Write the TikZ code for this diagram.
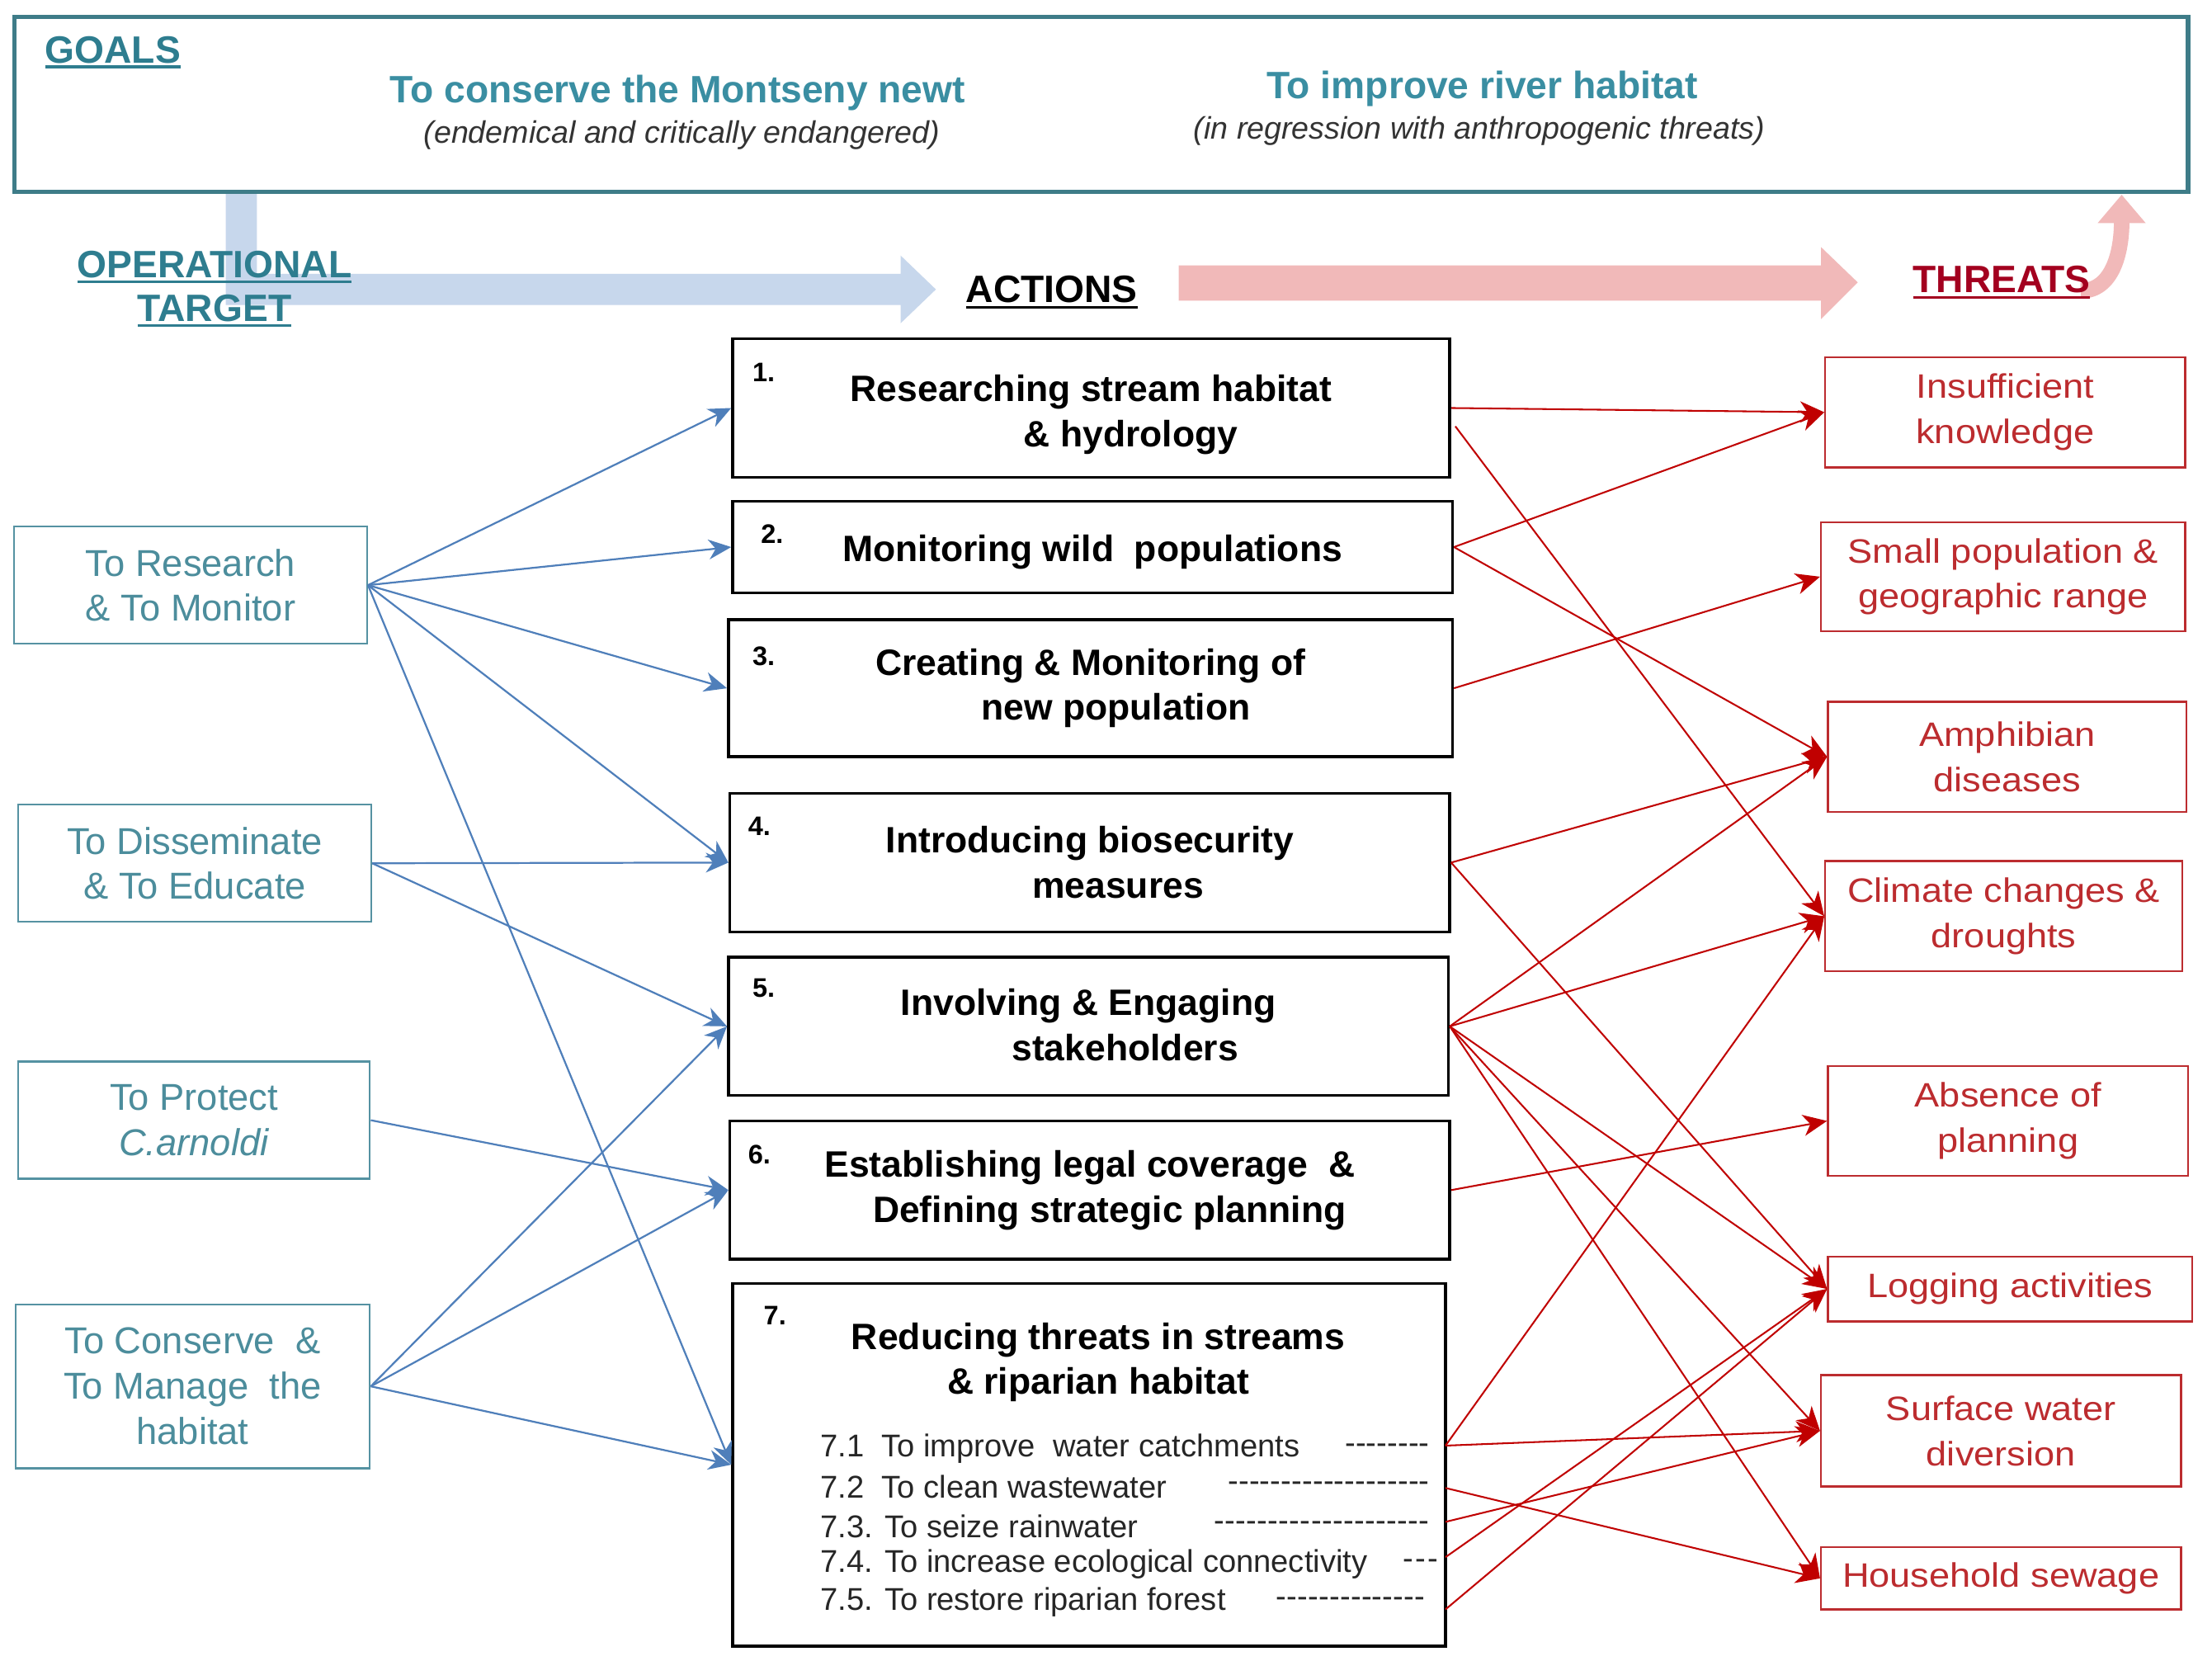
\documentclass[tikz,border=0pt]{standalone}
\usepackage{fontspec}
\setmainfont{Liberation Sans}
\newfontfamily\widefont[FakeStretch=1.1]{Liberation Sans}
\usetikzlibrary{arrows.meta}
\definecolor{goalteal}{HTML}{2E7D8F}
\definecolor{goaltext}{HTML}{3A8EA2}
\definecolor{goalline}{HTML}{3E7C88}
\definecolor{lteal}{HTML}{4C8D9C}
\definecolor{lborder}{HTML}{5592A2}
\definecolor{blu}{HTML}{4F7FBA}
\definecolor{rd}{HTML}{C00000}
\definecolor{tred}{HTML}{BC2C2F}
\definecolor{thrlab}{HTML}{A3001F}
\definecolor{bigblue}{HTML}{C7D7EC}
\definecolor{bigred}{HTML}{F1B9B9}
\newcommand\ulx[2][1.8pt]{\setbox0\hbox{#2}\leavevmode\rlap{\rule[-4pt]{\wd0}{#1}}\box0}
\newcommand\dfill[1]{\hbox to #1{\xleaders\hbox{-}\hfill}}
\begin{document}
\begin{tikzpicture}[x={(1pt,0pt)},y={(0pt,-1pt)},
  lbox/.style={draw=lborder, line width=1.4pt, text=lteal, align=center, inner sep=0pt, font=\fontsize{26.5}{32}\selectfont},
  abox/.style={draw=black, line width=2pt, align=center, inner sep=0pt, font=\bfseries\fontsize{26}{32}\selectfont},
  tbox/.style={draw=tred, line width=1.4pt, text=tred, align=center, inner sep=0pt, font=\widefont\fontsize{24}{32}\selectfont},
  num/.style={font=\bfseries\fontsize{19}{22}\selectfont, inner sep=0pt},
  item/.style={font=\fontsize{22.3}{24}\selectfont, text=black!85, inner sep=0pt},
  bl/.style={draw=blu, line width=1.3pt, -{Stealth[length=16pt,width=14pt,inset=5pt]}},
  rl/.style={draw=rd, line width=1.2pt, -{Stealth[length=17pt,width=15pt,inset=5pt]}},
  head/.style={font=\bfseries\fontsize{27}{30}\selectfont, inner sep=0pt},
  goalsub/.style={font=\itshape\fontsize{22}{24}\selectfont, text=black!80, inner sep=0pt},
  goalmain/.style={font=\bfseries\fontsize{27}{30}\selectfont, text=goaltext, inner sep=0pt},
]
\fill[white] (0,0) rectangle (1567,1176);
\useasboundingbox (0,0) rectangle (1567,1176);

% big background arrows
\fill[bigblue] (160,137) -- (182,137) -- (182,194) -- (638,194) -- (638,181) -- (663,205) -- (638,229) -- (638,216) -- (160,216) -- cycle;
\fill[bigred] (835,188) -- (1290,188) -- (1290,175) -- (1316,200) -- (1290,226) -- (1290,213) -- (835,213) -- cycle;
\draw[bigred, line width=11pt] (1474,206) to[out=0,in=-90] (1503,157);
\fill[bigred] (1486,158) -- (1520,158) -- (1503,138) -- cycle;

% goals
\node[draw=goalline, line width=3pt, minimum width=1540pt, minimum height=124pt, inner sep=0pt] (goals) at (780,74) {};
\node[head, text=goalteal] (goalslab) at (80,37) {\ulx[2.2pt]{GOALS}};
\node[goalmain] (g1) at (480,66) {To conserve the Montseny newt};
\node[goalsub] (g1s) at (483,96) {(endemical and critically endangered)};
\node[goalmain] (g2) at (1050,63) {To improve river habitat};
\node[goalsub] (g2s) at (1048,93) {(in regression with anthropogenic threats)};

\node[head, text=goalteal] (op1) at (152,189) {\ulx{OPERATIONAL}};
\node[head, text=goalteal] (op2) at (152,220) {\ulx{TARGET}};
\node[head] (actlab) at (745,207) {\ulx{ACTIONS}};
\node[head, text=thrlab] (thrl) at (1418,200) {\ulx{THREATS}};

% operational targets
\node[lbox, minimum width=250pt, minimum height=83pt] (l1) at (135,414.5) {To Research\\\& To Monitor};
\node[lbox, minimum width=250pt, minimum height=83pt] (l2) at (138,611.5) {To Disseminate\\\& To Educate};
\node[lbox, minimum width=249pt, minimum height=83pt] (l3) at (137.5,793.5) {To Protect\\\textit{C.arnoldi}};
\node[lbox, minimum width=251pt, minimum height=116pt] (l4) at (136.5,982) {To Conserve\ \ \&\\To Manage\ \ the\\habitat};

% actions
\node[abox, minimum width=508pt, minimum height=98pt, text depth=0pt] (a1) at (773,289) {\raisebox{-4pt}{Researching stream habitat}\\\hspace*{56pt}\raisebox{-4pt}{\& hydrology}};
\node[abox, minimum width=510pt, minimum height=65pt, text depth=0pt] (a2) at (774,387.5) {\raisebox{-2pt}{Monitoring wild\ \ populations}};
\node[abox, minimum width=513pt, minimum height=97pt] (a3) at (772.5,487.5) {Creating \& Monitoring of\\\hspace*{36pt}new population};
\node[abox, minimum width=510pt, minimum height=98pt] (a4) at (772,611) {Introducing biosecurity\\\hspace*{40pt}measures};
\node[abox, minimum width=510pt, minimum height=98pt] (a5) at (771,727) {\raisebox{2pt}{Involving \& Engaging}\\\hspace*{52pt}\raisebox{2pt}{stakeholders}};
\node[abox, minimum width=510pt, minimum height=98pt] (a6) at (772,843) {Establishing legal coverage\ \ \&\\\hspace*{28pt}Defining strategic planning};
\node[abox, minimum width=505pt, minimum height=257pt] (a7) at (771.5,1037.5) {};
\node[font=\bfseries\fontsize{26}{32}\selectfont, align=center, inner sep=0pt] (a7t) at (778,965) {Reducing threats in streams\\\& riparian habitat};

\node[num] (n1) at (541,264) {1.};
\node[num] (n2) at (547,378) {2.};
\node[num] (n3) at (541,465) {3.};
\node[num] (n4) at (538,585) {4.};
\node[num] (n5) at (541,700) {5.};
\node[num] (n6) at (538,818) {6.};
\node[num] (n7) at (549,932) {7.};

\node[item, anchor=west] (i1) at (581,1026) {7.1\ \ To improve\ \ water catchments};
\node[item, anchor=west] (i2) at (581,1053) {7.2\ \ To clean wastewater};
\node[item, anchor=west] (i3) at (581,1081) {7.3. To seize rainwater};
\node[item, anchor=west] (i4) at (581,1108) {7.4. To increase ecological connectivity};
\node[item, anchor=west] (i5) at (581,1135) {7.5. To restore riparian forest};
\node[item, anchor=east] (d1) at (1013,1026) {\dfill{60pt}};
\node[item, anchor=east] (d2) at (1013,1053) {\dfill{143pt}};
\node[item, anchor=east] (d3) at (1013,1081) {\dfill{153pt}};
\node[item, anchor=east] (d4) at (1020,1108) {\dfill{27pt}};
\node[item, anchor=east] (d5) at (1010,1135) {\dfill{106pt}};

% threats
\node[tbox, minimum width=255pt, minimum height=78pt] (t1) at (1420.5,292) {Insufficient\\knowledge};
\node[tbox, minimum width=258pt, minimum height=77pt] (t2) at (1419,408.5) {Small population \&\\geographic range};
\node[tbox, minimum width=254pt, minimum height=78pt] (t3) at (1422,536) {Amphibian\\diseases};
\node[tbox, minimum width=253pt, minimum height=78pt] (t4) at (1419.5,649) {Climate changes \&\\droughts};
\node[tbox, minimum width=255pt, minimum height=78pt] (t5) at (1422.5,794) {Absence of\\planning};
\node[tbox, minimum width=258pt, minimum height=46pt] (t6) at (1424,913) {Logging activities};
\node[tbox, minimum width=255pt, minimum height=79pt] (t7) at (1417.5,1013.5) {Surface water\\diversion};
\node[tbox, minimum width=255pt, minimum height=44pt] (t8) at (1417.5,1118) {Household sewage};

% blue connectors
\draw[bl] (l1.east) -- (a1.west);
\draw[bl] (l1.east) -- (a2.west);
\draw[bl] (l1.east) -- (a3.west);
\draw[bl] (l1.east) -- (a4.west);
\draw[bl] (l1.east) -- (a7.west);
\draw[bl] (l2.east) -- (a4.west);
\draw[bl] (l2.east) -- (a5.west);
\draw[bl] (l3.east) -- (a6.west);
\draw[bl] (l4.east) -- (a5.west);
\draw[bl] (l4.east) -- (a6.west);
\draw[bl] (l4.east) -- (a7.west);

% red connectors
\coordinate (a1b) at (1031,302);
\coordinate (r1) at (1024,1024);
\coordinate (r2) at (1024,1054);
\coordinate (r3) at (1024,1078);
\coordinate (r4) at (1024,1103);
\coordinate (r5) at (1024,1140);
\draw[rl] (a1.east) -- (t1.west);
\draw[rl] (a1b) -- (t4.west);
\draw[rl] (a2.east) -- (t1.west);
\draw[rl] (a2.east) -- (t3.west);
\draw[rl] (a3.east) -- (t2.west);
\draw[rl] (a4.east) -- (t3.west);
\draw[rl] (a4.east) -- (t6.west);
\draw[rl] (a5.east) -- (t3.west);
\draw[rl] (a5.east) -- (t4.west);
\draw[rl] (a5.east) -- (t6.west);
\draw[rl] (a5.east) -- (t7.west);
\draw[rl] (a5.east) -- (t8.west);
\draw[rl] (a6.east) -- (t5.west);
\draw[rl] (r1) -- (t4.west);
\draw[rl] (r1) -- (t7.west);
\draw[rl] (r2) -- (t8.west);
\draw[rl] (r3) -- (t7.west);
\draw[rl] (r4) -- (t6.west);
\draw[rl] (r5) -- (t6.west);
\end{tikzpicture}
\end{document}
